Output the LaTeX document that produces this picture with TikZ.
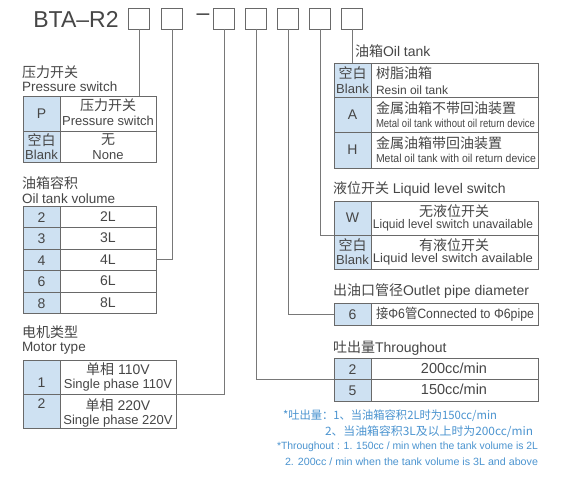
\documentclass[tikz,border=0pt]{standalone}
\usepackage{fontspec}
\usepackage{graphicx}
\setmainfont{Liberation Sans}
\newfontfamily\cjk{Noto Sans CJK SC}
\newcommand\fs[1]{\fontsize{#1}{#1}\selectfont}
\newcommand\cj[1]{{\cjk #1}}
\newcommand\fitw[2]{\resizebox{#1}{\height}{#2}}
\definecolor{linegray}{RGB}{105,105,105}
\definecolor{conngray}{RGB}{120,120,120}
\definecolor{keyblue}{RGB}{206,225,242}
\definecolor{txtgray}{RGB}{70,70,70}
\definecolor{noteblue}{RGB}{75,148,208}
\newcommand\cellat[6]{\node[#6, minimum width={(#4)-(#2)}, minimum height={(#5)-(#3)}] (#1) at ({((#2)+(#4))/2},{((#3)+(#5))/2}) {};}
\tikzset{
  cellbox/.style={draw=linegray, line width=0.8pt, inner sep=0pt, outer sep=0pt, fill=white},
  keybox/.style={cellbox, fill=keyblue},
  txt/.style={inner sep=0pt, outer sep=0pt, text=txtgray, font=\fs{13}},
  conn/.style={draw=conngray, line width=0.8pt},
  slot/.style={draw=linegray, line width=0.9pt, minimum width=21pt, minimum height=21pt, inner sep=0pt, outer sep=0pt},
  note/.style={inner sep=0pt, outer sep=0pt, text=noteblue, anchor=west},
}
\begin{document}
\begin{tikzpicture}[x=1pt,y=-1pt]
\fill[white] (0,0) rectangle (565,486);
\useasboundingbox (0,0) rectangle (565,486);

% ---------- title ----------
\node[txt, font=\fs{23}] (title) at (76,19) {BTA–R2};
\foreach \i/\xx in {1/139,2/172,3/224,4/256,5/288,6/320,7/352}
  \node[slot] (s\i) at (\xx,18.5) {};
\node[txt, font=\fs{23}] (dash) at (203,17.5) {–};

% ---------- pressure switch ----------
\node[txt, anchor=west, font=\fs{14}] (hP1) at (22,72) {\cj{压力开关}};
\node[txt, anchor=west, font=\fs{13.5}] (hP2) at (22,87) {Pressure switch};
\cellat{pL1}{23}{96}{60}{131}{keybox}
\cellat{pR1}{60}{96}{156}{131}{cellbox}
\cellat{pL2}{23}{131}{60}{162}{keybox}
\cellat{pR2}{60}{131}{156}{162}{cellbox}
\node[txt, font=\fs{14}] (pL1t) at (41.5,114) {P};
\node[txt, font=\fs{14}] (pR1a) at (108,105) {\cj{压力开关}};
\node[txt, font=\fs{13}] (pR1b) at (108,121) {Pressure switch};
\node[txt, font=\fs{14}] (pL2a) at (41.5,140) {\cj{空白}};
\node[txt, font=\fs{13}] (pL2b) at (41.5,155) {Blank};
\node[txt, font=\fs{14}] (pR2a) at (108,140) {\cj{无}};
\node[txt, font=\fs{13}] (pR2b) at (108,155) {None};

% ---------- oil tank volume ----------
\node[txt, anchor=west, font=\fs{14}] (hV1) at (22,183) {\cj{油箱容积}};
\node[txt, anchor=west, font=\fs{13.5}] (hV2) at (22,199) {Oil tank volume};
\foreach \n/\ya/\yb in {2/206/227,3/227/249,4/249/270,6/270/292,8/292/313}{
  \cellat{vL\n}{23}{\ya}{60}{\yb}{keybox}
  \cellat{vR\n}{60}{\ya}{156}{\yb}{cellbox}
  \node[txt, font=\fs{14}] (vL\n t) at ([yshift=-1pt]vL\n.center) {\n};
  \node[txt, font=\fs{14}] (vR\n t) at (vR\n.center) {\n L};
}

% ---------- motor type ----------
\node[txt, anchor=west, font=\fs{14}] (hM1) at (22,332) {\cj{电机类型}};
\node[txt, anchor=west, font=\fs{13.5}] (hM2) at (22,348) {Motor type};
\cellat{mL1}{23}{360}{60}{394}{keybox}
\cellat{mR1}{60}{360}{176}{394}{cellbox}
\cellat{mL2}{23}{394}{60}{428}{keybox}
\cellat{mR2}{60}{394}{176}{428}{cellbox}
\node[txt, font=\fs{14}] (mL1t) at (41.5,383) {1};
\node[txt, font=\fs{14}] (mL2t) at (41.5,404) {2};
\node[txt, font=\fs{14}] (mR1a) at (118,369) {\cj{单相} 110V};
\node[txt, font=\fs{13}] (mR1b) at (118,385) {Single phase 110V};
\node[txt, font=\fs{14}] (mR2a) at (118,405) {\cj{单相} 220V};
\node[txt, font=\fs{13}] (mR2b) at (118,421) {Single phase 220V};

% ---------- oil tank ----------
\node[txt, anchor=west, font=\fs{14}] (hO) at (355,51) {\cj{油箱}Oil tank};
\cellat{oL1}{334}{63}{371}{97}{keybox}
\cellat{oR1}{371}{63}{538}{97}{cellbox}
\cellat{oL2}{334}{97}{371}{132}{keybox}
\cellat{oR2}{371}{97}{538}{132}{cellbox}
\cellat{oL3}{334}{132}{371}{168}{keybox}
\cellat{oR3}{371}{132}{538}{168}{cellbox}
\node[txt, font=\fs{14}] (oL1a) at (352.5,73) {\cj{空白}};
\node[txt, font=\fs{13}] (oL1b) at (352.5,89) {Blank};
\node[txt, anchor=west, font=\fs{14}] (oR1a) at (376,73) {\cj{树脂油箱}};
\node[txt, anchor=west, font=\fs{12}] (oR1b) at (376,90) {Resin oil tank};
\node[txt, font=\fs{14}] (oL2t) at (352.5,115) {A};
\node[txt, anchor=west, font=\fs{14}] (oR2a) at (376,108) {\cj{金属油箱不带回油装置}};
\node[txt, anchor=west, font=\fs{11.5}] (oR2b) at (376,123) {\fitw{159pt}{Metal oil tank without oil return device}};
\node[txt, font=\fs{14}] (oL3t) at (352.5,150) {H};
\node[txt, anchor=west, font=\fs{14}] (oR3a) at (376,143) {\cj{金属油箱带回油装置}};
\node[txt, anchor=west, font=\fs{11.5}] (oR3b) at (376,158) {\fitw{160pt}{Metal oil tank with oil return device}};

% ---------- liquid level switch ----------
\node[txt, anchor=west, font=\fs{14}] (hL) at (333,189) {\cj{液位开关} Liquid level switch};
\cellat{lL1}{334}{201}{371}{235}{keybox}
\cellat{lR1}{371}{201}{538}{235}{cellbox}
\cellat{lL2}{334}{235}{371}{269}{keybox}
\cellat{lR2}{371}{235}{538}{269}{cellbox}
\node[txt, font=\fs{14}] (lL1t) at (352.5,218) {W};
\node[txt, font=\fs{14}] (lR1a) at (454,211) {\cj{无液位开关}};
\node[txt, font=\fs{12.5}] (lR1b) at (453,225) {\fitw{160pt}{Liquid level switch unavailable}};
\node[txt, font=\fs{14}] (lL2a) at (352.5,245) {\cj{空白}};
\node[txt, font=\fs{13}] (lL2b) at (352.5,260) {Blank};
\node[txt, font=\fs{14}] (lR2a) at (454,245) {\cj{有液位开关}};
\node[txt, font=\fs{12.5}] (lR2b) at (453,259) {\fitw{160pt}{Liquid level switch available}};

% ---------- outlet pipe ----------
\node[txt, anchor=west, font=\fs{14}] (hOP) at (333,291) {\cj{出油口管径}Outlet pipe diameter};
\cellat{pL6}{334}{303}{371}{325}{keybox}
\cellat{pR6}{371}{303}{538}{325}{cellbox}
\node[txt, font=\fs{14}] (pL6t) at (352.5,314.5) {6};
\node[txt, anchor=west, font=\fs{13.5}] (pR6t) at (376,314) {\fitw{158pt}{\cj{接}Φ6\cj{管}Connected to Φ6pipe}};

% ---------- throughout ----------
\node[txt, anchor=west, font=\fs{14}] (hT) at (333,348) {\cj{吐出量}Throughout};
\cellat{tL1}{334}{358}{371}{379}{keybox}
\cellat{tR1}{371}{358}{538}{379}{cellbox}
\cellat{tL2}{334}{379}{371}{401}{keybox}
\cellat{tR2}{371}{379}{538}{401}{cellbox}
\node[txt, font=\fs{14}] (tL1t) at (352.5,370) {2};
\node[txt, font=\fs{14.5}] (tR1t) at (454,368.5) {200cc/min};
\node[txt, font=\fs{14}] (tL2t) at (352.5,391) {5};
\node[txt, font=\fs{14.5}] (tR2t) at (454,389.5) {150cc/min};

% ---------- notes ----------
\node[note, font=\fs{11.5}] (n1) at (283,416) {\fitw{214pt}{\cj{*吐出量：1、当油箱容积2L时为150cc/min}}};
\node[note, font=\fs{11.5}] (n2) at (325,432) {\fitw{208pt}{\cj{2、当油箱容积3L及以上时为200cc/min}}};
\node[note, font=\fs{10.5}] (n3) at (277,447) {\fitw{261pt}{*Throughout : 1. 150cc / min when the tank volume is 2L}};
\node[note, font=\fs{10.5}] (n4) at (285,462) {\fitw{253pt}{2. 200cc / min when the tank volume is 3L and above}};

% ---------- connectors ----------
\draw[conn] (s1.south) -- (s1.south |- pR1.north);
\draw[conn] (s2.south) |- (vR4.east);
\draw[conn] (s3.south) |- (mR1.south east);
\draw[conn] (s4.south) |- (tL2.north west);
\draw[conn] (s5.south) |- (pL6.west);
\draw[conn] (s6.south) |- (lL2.north west);
\draw[conn] (s7.south) -- (s7.south |- oL1.north);
\end{tikzpicture}
\end{document}
